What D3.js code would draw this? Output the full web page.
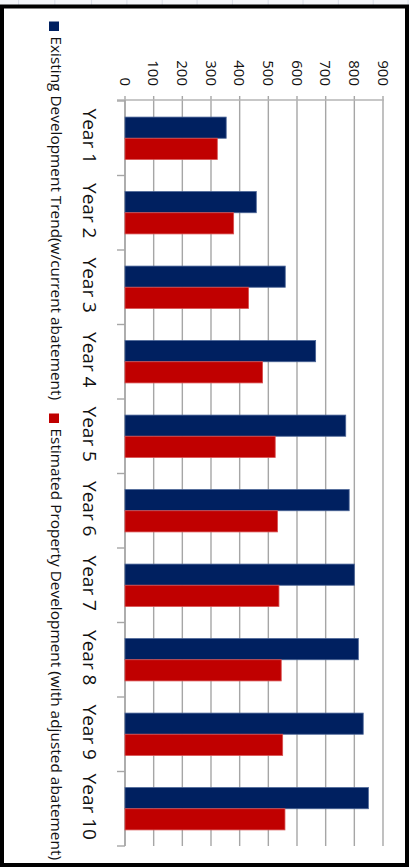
<!DOCTYPE html>
<html>
<head>
<meta charset="utf-8">
<script src="https://cdn.jsdelivr.net/npm/d3@7"></script>
<style>
  html, body { margin: 0; padding: 0; background: #ffffff; }
  svg { display: block; }
</style>
</head>
<body>
<svg id="chart" width="409" height="867"></svg>
<script>
// ---- data ----
const categories = ["Year 1", "Year 2", "Year 3", "Year 4", "Year 5", "Year 6", "Year 7", "Year 8", "Year 9", "Year 10"];
const seriesNames = ["Existing Development Trend(w/current abatement)", "Estimated Property Development (with adjusted abatement)"];
const existingTrend = [353, 458, 559, 665, 770, 782, 800, 814, 831, 849];
const estimatedDev = [322, 379, 431, 480, 524, 532, 537, 545, 550, 558];
const valueTicks = [0, 100, 200, 300, 400, 500, 600, 700, 800, 900];

const colors = ["#002060", "#C00000"];
const strokes = ["#4a6496", "#d85050"];
const seriesValues = [existingTrend, estimatedDev];

const svg = d3.select("#chart");

// faint spreadsheet grid above the frame
svg.append("rect").attr("x", 0).attr("y", 0).attr("width", 409).attr("height", 5).attr("fill", "#f4f6fa");
[40, 118, 197, 273, 349, 424, 500, 577, 652, 728, 803, 878].forEach(v => {
  svg.append("line").attr("x1", v * 409 / 880).attr("x2", v * 409 / 880).attr("y1", 0).attr("y2", 5)
    .attr("stroke", "#d8dde8").attr("stroke-width", 1);
});

// frame
svg.append("rect")
  .attr("x", 2).attr("y", 6.5).attr("width", 405).attr("height", 858.5)
  .attr("fill", "#ffffff").attr("stroke", "#000000").attr("stroke-width", 4);

// scales
const x = d3.scaleLinear().domain([0, 900]).range([125, 383]);
const y = d3.scaleBand().domain(categories).range([101, 846]).paddingInner(0).paddingOuter(0);
const ySub = d3.scaleBand().domain([0, 1]).range([0, y.bandwidth()]).paddingInner(0).paddingOuter(0.76);

// gridlines (+ outward ticks above the axis line)
svg.append("g").selectAll("line").data(valueTicks).join("line")
  .attr("x1", d => x(d)).attr("x2", d => x(d))
  .attr("y1", 96).attr("y2", 846)
  .attr("stroke", "#a6a6a6").attr("stroke-width", 1.4);

// value axis line (top)
svg.append("line").attr("x1", 117).attr("x2", 384).attr("y1", 100).attr("y2", 100)
  .attr("stroke", "#b4b4b4").attr("stroke-width", 1.4);

// category axis line
svg.append("line").attr("x1", x(0)).attr("x2", x(0)).attr("y1", 100).attr("y2", 846)
  .attr("stroke", "#a6a6a6").attr("stroke-width", 1.4);

// category ticks (at band boundaries)
const boundaries = categories.map(c => y(c)).concat([y(categories[categories.length - 1]) + y.step()]);
svg.append("g").selectAll("line").data(boundaries).join("line")
  .attr("x1", 117).attr("x2", x(0))
  .attr("y1", d => d).attr("y2", d => d)
  .attr("stroke", "#a6a6a6").attr("stroke-width", 1.4);

// bars
seriesValues.forEach((vals, si) => {
  svg.append("g").selectAll("rect").data(vals).join("rect")
    .attr("x", x(0))
    .attr("y", (d, i) => y(categories[i]) + ySub(si))
    .attr("width", d => x(d) - x(0))
    .attr("height", ySub.bandwidth())
    .attr("fill", colors[si])
    .attr("stroke", strokes[si])
    .attr("stroke-width", 0.8);
});

// value tick labels (rotated 90° clockwise)
svg.append("g").selectAll("text").data(valueTicks).join("text")
  .attr("transform", d => `translate(${x(d) - 5.5},86) rotate(90)`)
  .attr("text-anchor", "end")
  .attr("font-family", "'Open Sans', sans-serif")
  .attr("font-size", 15)
  .attr("fill", "#111")
  .text(d => d);

// category labels
svg.append("g").selectAll("text").data(categories).join("text")
  .attr("transform", d => `translate(82.5,${y(d) + y.bandwidth() / 2 - 2}) rotate(90)`)
  .attr("text-anchor", "middle")
  .attr("font-family", "'Open Sans', sans-serif")
  .attr("font-size", 19)
  .attr("fill", "#111")
  .text(d => d);

// legend
const legendItems = [
  { name: seriesNames[0], color: colors[0], sq: 21.5, t0: 36.5, t1: 400 },
  { name: seriesNames[1], color: colors[1], sq: 413.5, t0: 428.5, t1: 860 }
];
const lg = svg.append("g");
legendItems.forEach(it => {
  lg.append("rect").attr("x", 49).attr("y", it.sq).attr("width", 10).attr("height", 9.5).attr("fill", it.color);
  lg.append("text")
    .attr("transform", `translate(50.5,${it.t0}) rotate(90)`)
    .attr("font-family", "'Open Sans', sans-serif")
    .attr("font-size", 14.5)
    .attr("fill", "#111")
    .attr("textLength", it.t1 - it.t0)
    .attr("lengthAdjust", "spacingAndGlyphs")
    .text(it.name);
});
</script>
</body>
</html>
